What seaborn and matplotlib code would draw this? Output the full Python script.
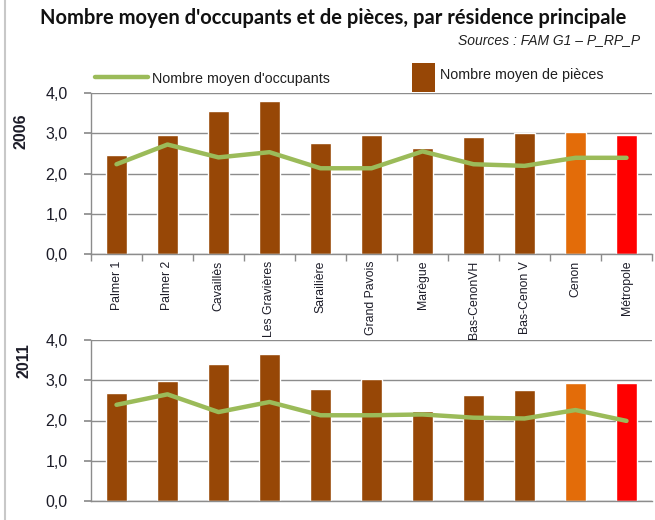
import numpy as np
import pandas as pd
import matplotlib
matplotlib.use("Agg")
import matplotlib.pyplot as plt
from matplotlib.lines import Line2D
from matplotlib.patches import Rectangle
from matplotlib.ticker import FuncFormatter, FixedLocator
import seaborn as sns

# --- data -------------------------------------------------------------------
quartiers = ["Palmer 1", "Palmer 2", "Cavaillès", "Les Gravières", "Sarailière",
             "Grand Pavois", "Marègue", "Bas-CenonVH", "Bas-Cenon V", "Cenon",
             "Métropole"]

pieces_2006 = [2.45, 2.95, 3.56, 3.80, 2.77, 2.96, 2.63, 2.90, 3.00, 3.02, 2.96]
occupants_2006 = [2.23, 2.72, 2.40, 2.53, 2.13, 2.13, 2.55, 2.23, 2.19, 2.39, 2.39]

pieces_2011 = [2.69, 2.98, 3.40, 3.65, 2.78, 3.02, 2.23, 2.63, 2.77, 2.93, 2.93]
occupants_2011 = [2.39, 2.65, 2.21, 2.46, 2.13, 2.13, 2.15, 2.07, 2.05, 2.26, 1.99]

annees = ["2006", "2011"]

# --- style ------------------------------------------------------------------
sns.set_theme(style="white")
plt.rcParams["font.family"] = ["Liberation Sans", "DejaVu Sans"]

BROWN = "#974706"
ORANGE = "#E36C09"
RED = "#FF0000"
GREEN = "#9BBB59"
GRID = "#8C8C8C"
TXT = "#1C1C28"
bar_colors = [BROWN] * 9 + [ORANGE, RED]
palette = dict(zip(quartiers, bar_colors))

fig = plt.figure(figsize=(6.55, 5.2), dpi=100)

W, H = 655.0, 520.0
left = 91 / W
width = 561 / W
ax_top = fig.add_axes([left, 1 - 254 / H, width, 161 / H])
ax_bot = fig.add_axes([left, 1 - 501 / H, width, 161 / H])

comma = FuncFormatter(lambda v, _: f"{v:.1f}".replace(".", ","))


def draw(ax, pieces, occupants, show_labels):
    df = pd.DataFrame({"quartier": quartiers, "pieces": pieces,
                       "occupants": occupants, "pos": np.arange(len(quartiers))})
    sns.barplot(data=df, x="quartier", y="pieces", hue="quartier",
                palette=palette, width=0.4, legend=False, ax=ax,
                saturation=1, zorder=2)
    sns.lineplot(data=df, x="pos", y="occupants", color=GREEN, lw=3.2,
                 ax=ax, zorder=3, sort=False)
    ax.set_xlim(-0.5, len(quartiers) - 0.5)
    ax.set_ylim(0, 4)
    ax.set_yticks([0, 1, 2, 3, 4])
    ax.yaxis.set_major_formatter(comma)
    ax.grid(axis="y", color=GRID, lw=1.0, zorder=0)
    ax.set_axisbelow(True)
    for s in ["top", "right"]:
        ax.spines[s].set_visible(False)
    ax.spines["left"].set_color(GRID)
    ax.spines["bottom"].set_color(GRID)
    ax.spines["left"].set_linewidth(1.0)
    ax.spines["bottom"].set_linewidth(1.0)
    ax.tick_params(axis="y", left=True, length=5, color=GRID, labelsize=11.5,
                   pad=12, labelcolor=TXT)
    ax.set_xlabel("")
    ax.set_ylabel("")
    if show_labels:
        ax.set_xticks(np.arange(len(quartiers)))
        ax.set_xticklabels(quartiers, rotation=90, fontsize=8.8, va="top")
        ax.tick_params(axis="x", which="major", length=0, pad=5,
                       labelcolor=TXT)
        ax.xaxis.set_minor_locator(FixedLocator(np.arange(-0.5, len(quartiers), 1.0)))
        ax.tick_params(axis="x", which="minor", bottom=True, length=5,
                       color=GRID, width=1.0)
    else:
        ax.set_xticks([])


draw(ax_top, pieces_2006, occupants_2006, True)
draw(ax_bot, pieces_2011, occupants_2011, False)

# year labels, placed beside the upper part of each panel
fig.text(21 / W, 1 - 131 / H, annees[0], rotation=90, ha="center",
         va="center", fontsize=11.5, fontweight="bold", color=TXT)
fig.text(24 / W, 1 - 361 / H, annees[1], rotation=90, ha="center",
         va="center", fontsize=11.5, fontweight="bold", color=TXT)

# --- titles -----------------------------------------------------------------
fig.text(333 / W, 1 - 18 / H,
         "Nombre moyen d'occupants et de pièces, par résidence principale",
         ha="center", va="center", fontsize=14.5, fontweight="bold",
         family=["Lato", "DejaVu Sans"], color="#111111")
fig.text(640 / W, 1 - 40 / H, "Sources : FAM G1 – P_RP_P", ha="right",
         va="center", fontsize=10, style="italic",
         family=["Liberation Sans", "DejaVu Sans"], color="#222222")

# --- legend -----------------------------------------------------------------
fig.add_artist(Line2D([95 / W, 148 / W], [1 - 77 / H, 1 - 77 / H],
                      color=GREEN, lw=3.2, transform=fig.transFigure))
fig.text(152 / W, 1 - 79 / H, "Nombre moyen d'occupants", ha="left",
         va="center", fontsize=10.3, color="#202020")
fig.add_artist(Rectangle((412 / W, 1 - 92 / H), 23 / W, 29 / H,
                         facecolor=BROWN, edgecolor="none",
                         transform=fig.transFigure))
fig.text(440 / W, 1 - 75 / H, "Nombre moyen de pièces", ha="left",
         va="center", fontsize=10.3, color="#202020")

# left frame edge
fig.add_artist(Line2D([5 / W, 5 / W], [0, 1], color="#C8C8C8", lw=1.5,
                      transform=fig.transFigure))

fig.savefig("out.png", dpi=100)
